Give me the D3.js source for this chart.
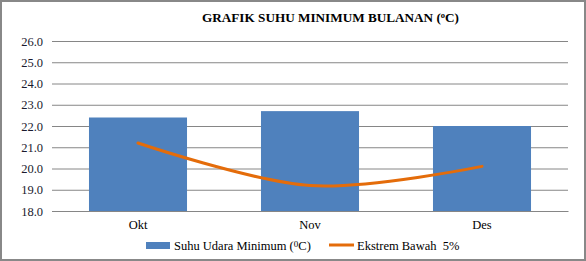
<!DOCTYPE html>
<html>
<head>
<meta charset="utf-8">
<script src="https://cdn.jsdelivr.net/npm/d3@7"></script>
<style>
  body { margin: 0; background: #fff; }
  svg { display: block; }
</style>
</head>
<body>
<svg id="chart" width="586" height="261"></svg>
<script>
const months = ["Okt", "Nov", "Des"];
const suhuMinimum = [22.4, 22.7, 22.0];
const ekstremBawah = [21.2, 19.2, 20.1];
const yTicks = [18, 19, 20, 21, 22, 23, 24, 25, 26];

const svg = d3.select("#chart");
const font = "'Liberation Serif', serif";

const margin = { top: 41, right: 18, bottom: 50, left: 52 };
const width = 586 - margin.left - margin.right;
const height = 261 - margin.top - margin.bottom;

// frame
svg.append("rect")
  .attr("x", 1).attr("y", 1)
  .attr("width", 584).attr("height", 259)
  .attr("fill", "#fff")
  .attr("stroke", "#888")
  .attr("stroke-width", 2);

svg.append("text")
  .attr("x", 202).attr("y", 22)
  .attr("font-family", font)
  .attr("font-weight", "bold")
  .attr("font-size", 13.2)
  .attr("fill", "#000")
  .html('GRAFIK SUHU MINIMUM BULANAN (<tspan dy="-4" font-size="8.5">o</tspan><tspan dy="4">C)</tspan>');

const g = svg.append("g").attr("transform", `translate(${margin.left},${margin.top})`);

const x = d3.scaleBand().domain(months).range([0, width]).paddingInner(0.43).paddingOuter(0.215);
const y = d3.scaleLinear().domain([18, 26]).range([height, 0]);

// gridlines
g.selectAll(".grid")
  .data(yTicks)
  .enter()
  .append("line")
  .attr("x1", 0).attr("x2", width)
  .attr("y1", (d) => y(d) + 0.5).attr("y2", (d) => y(d) + 0.5)
  .attr("stroke", "#868686")
  .attr("stroke-width", 1);

const yAxis = g.append("g")
  .call(d3.axisLeft(y).tickValues(yTicks).tickFormat(d3.format(".1f")).tickSize(0).tickPadding(9));
yAxis.select(".domain").remove();
yAxis.selectAll("text")
  .attr("font-family", font)
  .attr("font-size", 12.5)
  .attr("fill", "#1a1a2e");

g.selectAll(".bar")
  .data(suhuMinimum)
  .enter()
  .append("rect")
  .attr("x", (d, i) => x(months[i]))
  .attr("y", (d) => y(d))
  .attr("width", x.bandwidth())
  .attr("height", (d) => height - y(d))
  .attr("fill", "#4F81BD");

const line = d3.line()
  .x((d, i) => x(months[i]) + x.bandwidth() / 2)
  .y((d) => y(d))
  .curve(d3.curveCardinal.tension(0));

g.append("path")
  .datum(ekstremBawah)
  .attr("d", line)
  .attr("fill", "none")
  .attr("stroke", "#E46C0A")
  .attr("stroke-width", 3)
  .attr("stroke-linecap", "round");

const xAxis = g.append("g")
  .attr("transform", `translate(0,${height})`)
  .call(d3.axisBottom(x).tickSize(0).tickPadding(9));
xAxis.select(".domain").attr("stroke", "#868686");
xAxis.selectAll("text")
  .attr("font-family", font)
  .attr("font-size", 12.5)
  .attr("fill", "#000");

// legend
const legend = svg.append("g").attr("font-family", font).attr("font-size", 12.5);
legend.append("rect")
  .attr("x", 146).attr("y", 242).attr("width", 24).attr("height", 7)
  .attr("fill", "#4F81BD");
legend.append("text")
  .attr("x", 174).attr("y", 250)
  .html('Suhu Udara Minimum (<tspan dy="-3" font-size="9">0</tspan><tspan dy="3">C)</tspan>');
legend.append("line")
  .attr("x1", 329).attr("x2", 354).attr("y1", 245).attr("y2", 245)
  .attr("stroke", "#E46C0A").attr("stroke-width", 3);
legend.append("text")
  .attr("x", 357).attr("y", 250)
  .attr("xml:space", "preserve")
  .text("Ekstrem Bawah  5%");
</script>
</body>
</html>
